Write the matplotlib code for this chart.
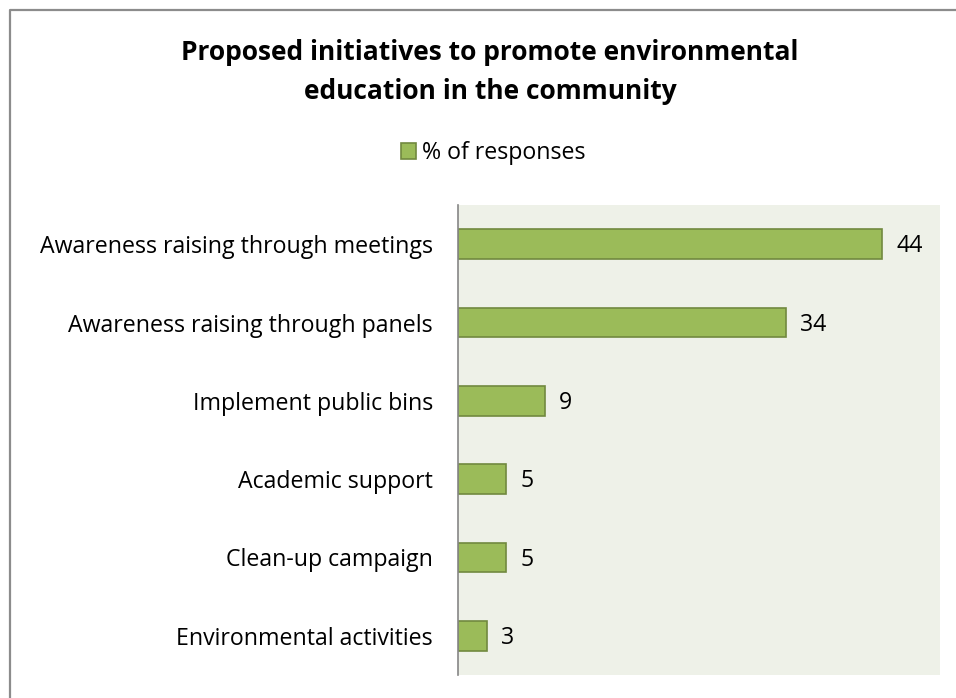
import matplotlib.pyplot as plt
from matplotlib.lines import Line2D

categories = [
    "Awareness raising through meetings",
    "Awareness raising through panels",
    "Implement public bins",
    "Academic support",
    "Clean-up campaign",
    "Environmental activities",
]
responses = [44, 34, 9, 5, 5, 3]

plt.rcParams['font.family'] = ['Open Sans', 'DejaVu Sans']

fig = plt.figure(figsize=(9.56, 6.98), dpi=100)
W, H = 956, 698

# outer chart frame (only left and top edges are visible)
fig.add_artist(Line2D([9.5 / W, 9.5 / W, 1.0], [0.0, 1 - 9.5 / H, 1 - 9.5 / H],
                      transform=fig.transFigure, color="#8c8c8c", lw=1.6))

ax = fig.add_axes([458 / W, 1 - 675 / H, (940 - 458) / W, (675 - 205) / H])
ax.set_facecolor("#eef1e8")

ypos = list(range(len(categories)))
bars = ax.barh(ypos, responses, height=0.38, color="#9bbb59",
               edgecolor="#71893f", linewidth=1.2, label="% of responses")
ax.set_yticks(ypos)
ax.set_yticklabels(categories, fontsize=16.7)
ax.set_ylim(len(categories) - 0.5, -0.5)
ax.set_xlim(0, 50)
ax.set_xticks([])
ax.tick_params(axis="y", length=0, pad=18)

for s in ["top", "right", "bottom"]:
    ax.spines[s].set_visible(False)
ax.spines["left"].set_color("#868686")
ax.spines["left"].set_linewidth(1.2)

for b, v in zip(bars, responses):
    ax.annotate(str(v), (b.get_width(), b.get_y() + b.get_height() / 2),
                xytext=(10, -1.5), textcoords="offset points",
                va="center", ha="left", fontsize=16.7)

fig.text(490 / W, 1 - 72 / H,
         "Proposed initiatives to promote environmental\neducation in the community",
         ha="center", va="center", fontsize=19, fontweight="bold", linespacing=1.55)

fig.legend(handles=[bars], labels=["% of responses"], loc="center",
           bbox_to_anchor=(493 / W, 1 - 153 / H), frameon=False, fontsize=16.7,
           handlelength=0.65, handleheight=0.65, handletextpad=0.25)

fig.savefig("out.png", dpi=100)
